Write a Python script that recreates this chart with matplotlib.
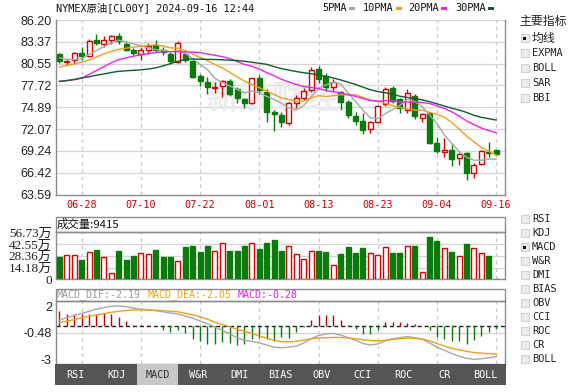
import matplotlib
matplotlib.use('Agg')
import matplotlib.pyplot as plt
from matplotlib.patches import Rectangle
import numpy as np

W, H = 577, 392

# ---------------- data ----------------
dates = ['06-25', '06-26', '06-27', '06-28', '07-01', '07-02', '07-03', '07-04', '07-05', '07-08',
         '07-09', '07-10', '07-11', '07-12', '07-15', '07-16', '07-17', '07-18', '07-19', '07-22',
         '07-23', '07-24', '07-25', '07-26', '07-29', '07-30', '07-31', '08-01', '08-02', '08-05',
         '08-06', '08-07', '08-08', '08-09', '08-12', '08-13', '08-14', '08-15', '08-16', '08-19',
         '08-20', '08-21', '08-22', '08-23', '08-26', '08-27', '08-28', '08-29', '08-30', '09-02',
         '09-03', '09-04', '09-05', '09-06', '09-09', '09-10', '09-11', '09-12', '09-13', '09-16']

opens = [81.85, 80.80, 80.99, 81.93, 81.50, 83.57, 83.05, 83.57, 84.08, 83.14,
         82.37, 81.85, 82.28, 82.92, 82.37, 81.85, 80.79, 81.76, 80.90, 78.96,
         78.19, 77.35, 77.63, 78.32, 77.21, 75.91, 75.40, 78.62, 76.90, 74.32,
         73.89, 72.82, 75.40, 76.12, 77.12, 79.83, 78.96, 77.54, 76.82, 75.53,
         73.80, 73.12, 72.08, 73.03, 75.27, 77.42, 75.90, 74.50, 76.30, 73.46,
         74.11, 70.24, 69.16, 69.37, 68.38, 68.95, 66.37, 67.53, 69.15, 69.30]
highs = [81.98, 81.10, 82.06, 82.70, 83.70, 84.43, 84.12, 84.30, 84.51, 83.35,
         82.57, 82.70, 83.22, 83.66, 82.70, 82.06, 83.48, 82.06, 81.08, 79.14,
         78.75, 78.19, 78.49, 78.62, 77.54, 76.04, 78.70, 79.05, 77.21, 74.54,
         74.32, 75.61, 76.47, 77.33, 80.12, 80.25, 79.27, 78.53, 76.99, 75.83,
         74.32, 74.11, 73.12, 75.18, 77.54, 77.67, 76.10, 77.20, 76.60, 74.10,
         74.30, 71.10, 70.88, 70.11, 68.95, 69.16, 67.66, 69.40, 70.37, 69.40]
lows = [80.64, 80.40, 80.56, 80.99, 81.41, 82.92, 82.70, 83.14, 83.14, 82.19,
        81.72, 80.99, 81.85, 82.06, 81.63, 80.50, 80.60, 80.73, 78.63, 77.63,
        76.60, 76.69, 76.17, 76.34, 75.48, 74.76, 75.30, 76.60, 73.03, 71.87,
        72.30, 72.60, 74.76, 75.83, 76.90, 77.98, 76.99, 76.99, 74.54, 73.46,
        72.60, 71.40, 71.53, 72.90, 75.09, 75.40, 74.20, 74.20, 73.40, 72.95,
        70.10, 68.95, 68.51, 67.22, 67.44, 65.50, 65.72, 67.40, 68.51, 68.70]
closes = [80.86, 80.95, 81.93, 81.50, 83.48, 83.27, 83.66, 84.08, 83.48, 82.37,
          81.98, 82.37, 82.79, 82.28, 82.06, 80.85, 83.22, 81.08, 78.75, 78.32,
          77.54, 77.50, 78.32, 76.60, 76.04, 75.40, 78.62, 77.12, 74.32, 74.02,
          73.03, 75.40, 76.12, 76.99, 79.70, 78.62, 77.54, 78.11, 75.61, 73.89,
          73.12, 71.96, 72.95, 75.09, 77.20, 75.70, 74.80, 76.80, 73.70, 73.98,
          70.24, 69.24, 69.37, 68.21, 68.86, 66.37, 67.44, 69.24, 69.00, 68.80]

ma5 = [81.30, 81.10, 81.05, 81.20, 81.74, 82.23, 82.77, 83.20, 83.59, 83.37,
       83.11, 82.86, 82.60, 82.36, 82.30, 82.07, 82.24, 81.90, 81.19, 80.44,
       79.78, 78.64, 78.09, 77.66, 77.20, 76.77, 77.00, 76.76, 76.30, 75.90,
       75.42, 74.78, 74.58, 75.11, 76.25, 77.37, 77.79, 78.19, 77.92, 76.75,
       75.65, 74.54, 73.51, 73.40, 74.06, 74.58, 75.15, 75.92, 75.64, 75.00,
       73.90, 72.79, 71.31, 70.21, 69.18, 68.41, 68.05, 68.02, 68.18, 68.17]
ma10 = [80.10, 80.30, 80.50, 80.75, 81.00, 81.40, 81.80, 82.15, 82.40, 82.56,
        82.67, 82.81, 82.90, 82.98, 82.83, 82.59, 82.55, 82.25, 81.78, 81.37,
        80.93, 80.44, 80.00, 79.42, 78.82, 78.28, 77.82, 77.43, 76.98, 76.55,
        76.10, 75.89, 75.67, 75.71, 76.08, 76.40, 76.29, 76.39, 76.52, 76.50,
        76.51, 76.17, 75.85, 75.66, 75.41, 75.12, 74.85, 74.72, 74.52, 74.53,
        74.24, 73.97, 73.62, 72.93, 72.09, 71.16, 70.42, 69.67, 69.20, 68.68]
ma20 = [78.24, 78.35, 78.47, 78.65, 79.15, 79.65, 80.15, 80.65, 81.07, 81.30,
        81.50, 81.70, 81.85, 81.97, 82.08, 82.10, 82.10, 82.08, 82.03, 81.97,
        81.80, 81.63, 81.45, 81.20, 80.83, 80.44, 80.19, 79.84, 79.38, 78.96,
        78.52, 78.17, 77.84, 77.57, 77.45, 77.34, 77.06, 76.91, 76.75, 76.53,
        76.31, 76.03, 75.76, 75.69, 75.75, 75.76, 75.57, 75.56, 75.52, 75.52,
        75.38, 75.07, 74.74, 74.30, 73.75, 73.14, 72.64, 72.20, 71.86, 71.61]
ma30 = [78.24, 78.35, 78.50, 78.70, 78.85, 79.05, 79.20, 79.40, 79.55, 79.62,
        79.68, 79.74, 79.85, 80.00, 80.25, 80.55, 80.85, 81.10, 81.15, 81.12,
        81.10, 81.08, 81.05, 81.00, 80.95, 80.85, 80.72, 80.60, 80.45, 80.16,
        79.90, 79.71, 79.52, 79.37, 79.24, 79.09, 78.89, 78.69, 78.43, 78.14,
        77.85, 77.50, 77.17, 76.93, 76.77, 76.60, 76.32, 76.18, 76.01, 75.86,
        75.62, 75.34, 75.05, 74.77, 74.53, 74.23, 73.85, 73.59, 73.41, 73.24]

volume = [27.3, 29.3, 29.3, 23.3, 32.6, 35.4, 27.3, 7.2, 34.2, 23.3,
          28.1, 31.4, 30.5, 35.4, 27.3, 27.3, 22.1, 39.0, 40.2, 33.0,
          40.2, 34.2, 43.8, 34.2, 34.2, 40.2, 43.5, 36.6, 43.8, 47.4,
          34.2, 40.2, 30.5, 24.1, 34.2, 34.2, 33.0, 17.3, 30.5, 39.0,
          31.8, 37.8, 31.8, 29.3, 39.0, 31.8, 31.8, 40.2, 40.2, 9.2,
          51.1, 46.3, 37.8, 33.0, 28.1, 42.6, 37.8, 31.8, 28.1, 0.94]

dif = [0.72, 0.95, 1.15, 1.35, 1.55, 1.75, 1.90, 2.02, 2.05, 1.98,
       1.85, 1.75, 1.68, 1.60, 1.50, 1.38, 1.30, 1.10, 0.90, 0.62,
       0.35, 0.05, -0.25, -0.60, -0.95, -1.20, -1.30, -1.45, -1.65, -1.85,
       -1.90, -1.85, -1.75, -1.45, -1.05, -0.75, -0.60, -0.55, -0.70, -0.95,
       -1.20, -1.50, -1.65, -1.55, -1.25, -1.05, -0.95, -0.85, -0.95, -1.10,
       -1.45, -1.85, -2.15, -2.45, -2.70, -2.90, -3.00, -2.95, -2.85, -2.75]
dea = [0.47, 0.60, 0.75, 0.92, 1.07, 1.20, 1.32, 1.45, 1.55, 1.63,
       1.67, 1.68, 1.68, 1.65, 1.60, 1.55, 1.50, 1.36, 1.22, 1.02,
       0.80, 0.50, 0.30, 0.08, -0.15, -0.35, -0.55, -0.80, -1.00, -1.20,
       -1.33, -1.35, -1.30, -1.20, -1.05, -0.98, -0.95, -0.92, -0.93, -0.98,
       -1.05, -1.15, -1.22, -1.25, -1.20, -1.12, -1.05, -1.00, -1.02, -1.08,
       -1.25, -1.50, -1.75, -1.95, -2.10, -2.25, -2.35, -2.42, -2.47, -2.50]
macd = [1.42, 1.11, 1.11, 1.11, 1.11, 1.11, 1.16, 1.11, 0.85, 0.47,
        0.07, 0.02, 0.02, -0.07, -0.41, -0.63, -0.47, -0.73, -1.26, -1.42,
        -1.73, -1.73, -1.58, -1.68, -1.80, -1.73, -1.26, -1.16, -1.26, -1.42,
        -1.10, -1.16, -0.63, -0.16, 0.54, 1.01, 0.95, 0.95, 0.54, 0.03,
        -0.31, -0.79, -0.79, -0.47, 0.31, 0.31, 0.31, 0.22, 0.16, -0.03,
        -0.47, -1.11, -1.26, -1.42, -1.42, -1.73, -1.35, -0.95, -0.63, -0.31]

price_ticks = [63.59, 66.42, 69.24, 72.07, 74.89, 77.72, 80.55, 83.37, 86.20]
vol_ticks = [0, 14.18, 28.36, 42.55, 56.73]
vol_labels = ['0', '14.18万', '28.36万', '42.55万', '56.73万']
macd_ticks = [2, -0.48, -3]
date_tick_idx = [3, 11, 19, 27, 35, 43, 51, 59]
title = 'NYMEX原油[CL00Y] 2024-09-16 12:44'
legend_names = ['5PMA', '10PMA', '20PMA', '30PMA']
main_menu = ['均线', 'EXPMA', 'BOLL', 'SAR', 'BBI']
sub_menu = ['RSI', 'KDJ', 'MACD', 'W&R', 'DMI', 'BIAS', 'OBV', 'CCI', 'ROC', 'CR', 'BOLL']
tabs = ['RSI', 'KDJ', 'MACD', 'W&R', 'DMI', 'BIAS', 'OBV', 'CCI', 'ROC', 'CR', 'BOLL']
vol_header = '成交量:9415'
macd_header = [('MACD_DIF:-2.19', '#9a9a9a'), ('MACD_DEA:-2.05', '#e8a317'), ('MACD:-0.28', '#e020e0')]

# ---------------- style ----------------
RED = '#dd0000'
GREEN = '#0a7a0a'
MA_COLORS = ['#a8a8a8', '#eea020', '#ee22ee', '#0c5e2c']
GRID = '#d4d4d4'
SPINE = '#8c8c8c'
MONO = ['DejaVu Sans Mono', 'Noto Sans CJK SC']
SANS = ['Liberation Sans', 'Noto Sans CJK SC']
CJK = ['Noto Sans CJK SC', 'DejaVu Sans']

fig = plt.figure(figsize=(W / 100, H / 100), dpi=100)
fig.patch.set_facecolor('white')


def pax(l, t, r, b):
    return fig.add_axes([l / W, 1 - b / H, (r - l) / W, (b - t) / H])


x = np.arange(len(closes))
o = np.array(opens); c = np.array(closes); hi = np.array(highs); lo = np.array(lows)
up = c > o
XL = (-0.47, 60.2)
BW = 0.68


def style_panel(a, top_visible=True):
    a.set_xlim(*XL)
    for s in a.spines.values():
        s.set_color(SPINE)
        s.set_linewidth(1)
    a.spines['top'].set_visible(top_visible)
    a.tick_params(length=0)
    for i in date_tick_idx:
        a.axvline(i, color='#c8c8c8', lw=0.9, ls=(0, (3, 3)), zorder=0)


# ---- main price panel ----
ax = pax(56, 20, 505, 194.5)
style_panel(ax, top_visible=False)
ax.set_ylim(63.59, 86.20)
for v in price_ticks[1:]:
    ax.axhline(v, color=GRID, lw=0.9, zorder=0)
ax.set_yticks(price_ticks)
ax.set_yticklabels([f'{v:.2f}' for v in price_ticks], family=SANS, fontsize=9, color='#222222')
ax.set_xticks(date_tick_idx)
ax.set_xticklabels([dates[i] for i in date_tick_idx], family=MONO, fontsize=7.3, color='#cc0000')
ax.tick_params(axis='y', pad=3)
ax.tick_params(axis='x', pad=4)
ax.text(0.48, 0.54, '新浪财经', transform=ax.transAxes, ha='center', va='center',
        family=CJK, fontsize=24, weight='bold', color='#ededed', zorder=0)

cols = np.where(up, RED, GREEN)
ax.vlines(x, lo, hi, colors=cols, lw=1, zorder=2)
ax.bar(x, np.abs(c - o) + 0.001, bottom=np.minimum(o, c), width=BW,
       color=np.where(up, 'white', GREEN), edgecolor=cols, lw=1, zorder=3)
for ma, col in zip([ma5, ma10, ma20, ma30], MA_COLORS):
    ax.plot(x, ma, color=col, lw=1, zorder=4)

# ---- volume panel ----
axv = pax(56, 232.3, 505, 279.3)
style_panel(axv)
axv.set_ylim(0, 56.73)
for v in vol_ticks[1:4]:
    axv.axhline(v, color=GRID, lw=0.9, zorder=0)
axv.set_xticks([])
axv.set_yticks(vol_ticks)
axv.set_yticklabels(vol_labels, family=['Liberation Serif', 'Noto Sans CJK SC'], fontsize=9.5, color='#222222')
axv.tick_params(axis='y', pad=3)
vcols = np.where(up, RED, GREEN)
axv.bar(x, volume, width=BW, color=np.where(up, 'white', GREEN), edgecolor=vcols, lw=1, zorder=3)

# ---- MACD panel ----
axm = pax(56, 300.7, 505, 364)
style_panel(axm)
axm.set_ylim(-3.445, 2.55)
axm.axhline(-0.48, color=GRID, lw=0.9, zorder=0)
axm.set_xticks([])
axm.set_yticks(macd_ticks)
axm.set_yticklabels(['2', '-0.48', '-3'], family=SANS, fontsize=9, color='#222222')
axm.tick_params(axis='y', pad=3)
mh = np.array(macd)
axm.axhline(0.2, color='#222222', lw=1, ls=(0, (3, 2)), zorder=1)
axm.vlines(x, 0.2, 0.2 + mh, colors=np.where(mh >= 0, '#c00000', GREEN), lw=1, zorder=2)
axm.plot(x, dif, color='#a8a8a8', lw=1, zorder=3)
axm.plot(x, dea, color='#eea020', lw=1, zorder=3)

# ---- overlay for texts / menus ----
ov = fig.add_axes([0, 0, 1, 1], zorder=10)
ov.set_xlim(0, W)
ov.set_ylim(H, 0)
ov.axis('off')

ov.text(56, 8, title, family=MONO, fontsize=7.4, va='center', ha='left', color='#111111')
lx = [322, 363, 408, 455]
for name, col, x0 in zip(legend_names, MA_COLORS, lx):
    ov.text(x0, 8, name, family=MONO, fontsize=7.4, va='center', ha='left', color='#111111')
    w = 6.05 * len(name)
    ov.add_patch(Rectangle((x0 + w + 3, 6.5), 6, 3, color=col, lw=0))

# volume header box
ov.add_patch(Rectangle((55.5, 216.5), 449.5, 15.8, fill=False, ec=SPINE, lw=1))
ov.text(57, 224.5, vol_header, family=CJK, fontsize=8.2, va='center', ha='left', color='#111111')
# macd header box
ov.add_patch(Rectangle((55.5, 288.5), 449.5, 12.2, fill=False, ec=SPINE, lw=1))
hx = 57
for txt, col in macd_header:
    ov.text(hx, 294.6, txt, family=MONO, fontsize=7.2, va='center', ha='left', color=col)
    hx += 6.02 * (len(txt) + 1)

# tab bar
ov.add_patch(Rectangle((55, 364), 450.5, 21, color='#555555', lw=0))
for i, tname in enumerate(tabs):
    cx = 75.5 + 41 * i
    if tname == 'MACD':
        ov.add_patch(Rectangle((cx - 20.5, 364), 41, 21, color='#c8c8c8', lw=0))
        tc = '#333333'
    else:
        tc = 'white'
    ov.text(cx, 374.8, tname, family=MONO, fontsize=7.3, ha='center', va='center', color=tc)

# right menus
ov.text(519, 21, '主要指标', family=CJK, fontsize=8.6, va='center', ha='left', color='#222222')


def checkbox(y, label, checked, cjk=False):
    ov.add_patch(Rectangle((520.5, y - 4), 8, 8, fc='#ececec', ec='#d2d2d2', lw=0.8))
    if checked:
        ov.add_patch(Rectangle((523, y - 1.5), 3, 3, fc='#111111', lw=0))
    ov.text(532, y, label, family=CJK if cjk else MONO, fontsize=8.6 if cjk else 7.4,
            va='center', ha='left', color='#222222')


for i, lab in enumerate(main_menu):
    checkbox(38 + 15 * i, lab, lab == '均线', cjk=(lab == '均线'))
for i, lab in enumerate(sub_menu):
    checkbox(219 + 14 * i, lab, lab == 'MACD')

fig.savefig('out.png', dpi=100, facecolor='white')
